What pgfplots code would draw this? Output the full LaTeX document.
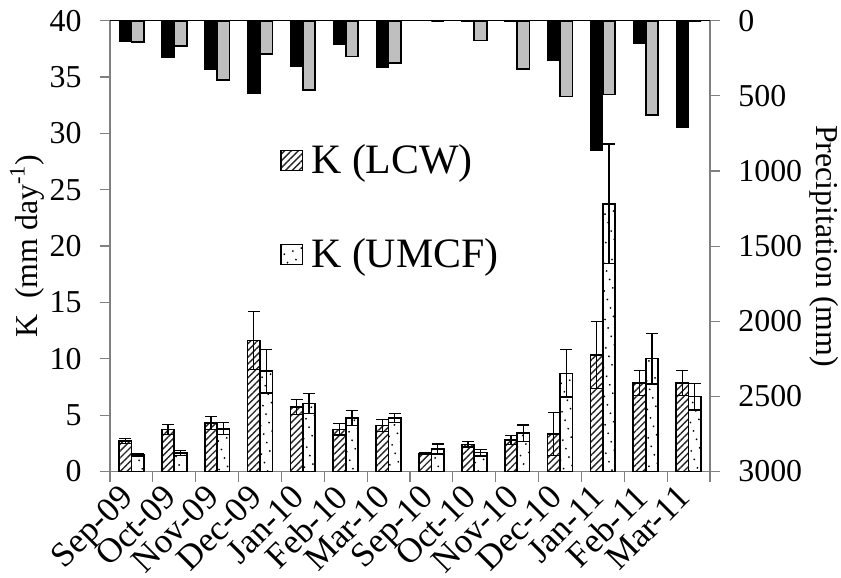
\documentclass[border=0pt]{standalone}
\usepackage{fontspec}
\setmainfont{Liberation Serif}
\usepackage{pgfplots}
\pgfplotsset{compat=1.18}
\usetikzlibrary{patterns.meta}

\pgfplotsset{sqleg/.style={legend image code/.code={\draw[##1] (0bp,-5bp) rectangle (10.8bp,5bp);}}}

\pgfplotstableread{
x  lcw   lcwe  umcf  umcfe pb   pg
0  2.69  0.24  1.48  0.15  138  140
1  3.73  0.44  1.66  0.23  248  167
2  4.32  0.59  3.79  0.53  325  395
3  11.62 2.57  8.90  1.93  485  222
4  5.74  0.65  6.03  0.86  303  461
5  3.73  0.50  4.76  0.68  160  237
6  4.08  0.56  4.76  0.41  310  281
7  1.61  0.10  2.00  0.44  0    0
8  2.41  0.23  1.67  0.30  5    132
9  2.80  0.38  3.39  0.74  5    320
10 3.33  1.89  8.71  2.10  266  505
11 10.36 2.97  23.76 5.30  863  492
12 7.85  1.09  10.01 2.25  154  628
13 7.85  1.09  6.64  1.19  714  0
}\data

\begin{document}
\begin{tikzpicture}
\pgfplotsset{
  common/.style={width=300bp,height=225.4bp,scale only axis,
    xmin=-0.5,xmax=13.5,
    /pgf/number format/assume math mode=true,
    tick label style={font=\rmfamily\fontsize{16}{18}\selectfont},
    label style={font=\rmfamily\fontsize{16}{18}\selectfont},
    axis line style={draw=gray, line width=0.6bp},
    tick style={draw=gray, line width=0.6bp},
    tick align=outside,
    major tick length=5bp, minor tick length=5bp,
    ybar, bar width=0.29,
  }
}
\begin{axis}[common, name=a,
  ymin=0, ymax=40, ytick={0,5,...,40},
  axis y line*=left, axis x line*=bottom,
  xtick={-0.5,0.5,...,13.5}, xticklabels={},
  extra x ticks={0,...,13},
  extra x tick labels={Sep-09,Oct-09,Nov-09,Dec-09,Jan-10,Feb-10,Mar-10,Sep-10,Oct-10,Nov-10,Dec-10,Jan-11,Feb-11,Mar-11},
  extra x tick style={major tick length=0pt},
  xticklabel style={font=\rmfamily\fontsize{17.5}{19}\selectfont, yshift=-5.5bp, xshift=-6.5bp, rotate=45, anchor=north east, inner sep=0pt},
  yticklabel style={inner sep=0pt, xshift=-9bp},
  ylabel={K\ \ (mm day\textsuperscript{-1})},
  ylabel style={at={(axis description cs:-0.1383,0.5)}, anchor=center},
  error bars/y dir=both, error bars/y explicit,
  error bars/error bar style={black, line width=0.6bp},
  error bars/error mark options={rotate=90, mark size=3bp, line width=0.6bp, black},
  legend style={at={(axis description cs:0.283,0.735)}, anchor=north west,
    draw=none, fill=none, font=\rmfamily\fontsize{21}{24}\selectfont, row sep=27bp,
    column sep=2bp, inner sep=0pt},
  legend cell align=left,
]
\addplot[draw=black, line width=0.8bp, bar shift=-0.145,
  pattern={Lines[angle=45,distance=2.4bp,line width=0.7bp]}, pattern color=black!85,
  sqleg]
  table[x=x, y=lcw, y error=lcwe] {\data};
\addlegendentry{K (LCW)}
\addplot[draw=black, line width=0.8bp, bar shift=0.145,
  pattern={Dots[distance=4.5bp,radius=0.5bp,angle=20]}, pattern color=black,
  sqleg]
  table[x=x, y=umcf, y error=umcfe] {\data};
\addlegendentry{K (UMCF)}
\draw[black, line width=0.8bp] (rel axis cs:0,1) -- (rel axis cs:1,1);
\end{axis}
\begin{axis}[common,
  ymin=0, ymax=3000, y dir=reverse, ytick={0,500,...,3000},
  /pgf/number format/1000 sep={},
  axis y line*=right, hide x axis,
  yticklabel style={inner sep=0pt, xshift=9bp},
  ylabel={Precipitation (mm)},
  ylabel style={at={(axis description cs:1.19,0.5)}, anchor=center, rotate=180},
]
\addplot[fill=black, draw=black, line width=0.5bp, bar shift=-0.145] table[x=x, y=pb] {\data};
\addplot[fill=gray!50, draw=black, line width=0.8bp, bar shift=0.145] table[x=x, y=pg] {\data};
\end{axis}
\pgfresetboundingbox
\path[use as bounding box] ([shift={(-55bp,-53.25bp)}]a.south west) rectangle ++(420.5bp,289bp);
\end{tikzpicture}
\end{document}
